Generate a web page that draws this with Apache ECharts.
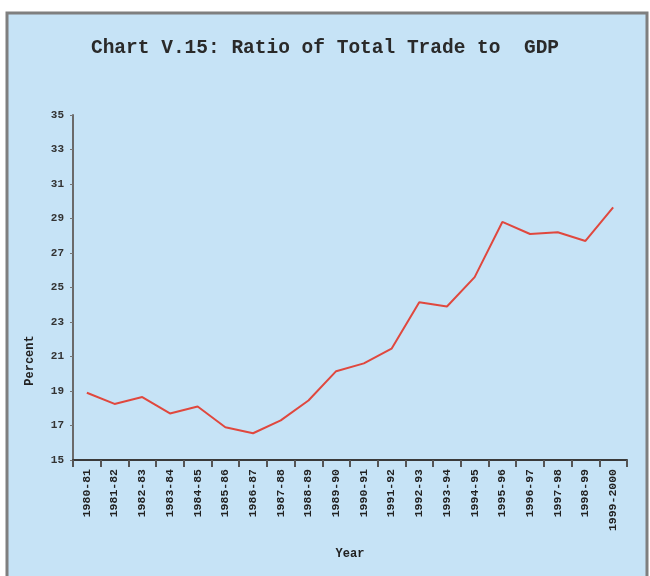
<!DOCTYPE html>
<html>
<head>
<meta charset="utf-8">
<script src="https://cdn.jsdelivr.net/npm/echarts@6/dist/echarts.min.js"></script>
<style>
html,body{margin:0;padding:0;background:#ffffff;}
#chart{width:650px;height:576px;}
</style>
</head>
<body>
<div id="chart"></div>
<script>
const years = ["1980-81","1981-82","1982-83","1983-84","1984-85","1985-86","1986-87","1987-88","1988-89","1989-90","1990-91","1991-92","1992-93","1993-94","1994-95","1995-96","1996-97","1997-98","1998-99","1999-2000"];
const tradeRatio = [18.9,18.25,18.65,17.7,18.1,16.9,16.55,17.3,18.45,20.15,20.6,21.45,24.15,23.9,25.6,28.8,28.1,28.2,27.7,29.65];
const titleText = "Chart V.15: Ratio of Total Trade to  GDP";
const yName = "Percent";
const xName = "Year";

const chart = echarts.init(document.getElementById('chart'));
chart.setOption({
  backgroundColor: '#ffffff',
  animation: false,
  graphic: [
    {type:'rect', shape:{x:7,y:13,width:640,height:570}, style:{fill:'#c6e3f6', stroke:'#7f7f7f', lineWidth:3}, z:-10}
  ],
  title: {
    text: titleText,
    left: 'center',
    top: 33,
    textStyle: {fontFamily:'Liberation Mono', fontSize:19.5, fontWeight:'bold', color:'#2a2a2a'}
  },
  grid: {left:73, right:23, top:115, bottom:116},
  xAxis: {
    type:'category',
    data: years,
    boundaryGap: true,
    name: xName,
    nameLocation:'middle',
    nameGap: 88,
    nameTextStyle:{fontFamily:'Liberation Mono', fontSize:12, fontWeight:'bold', color:'#222'},
    axisLine:{lineStyle:{color:'#3a3a3a', width:2}},
    axisTick:{show:true, length:7, lineStyle:{color:'#555', width:2}, alignWithLabel:false},
    axisLabel:{rotate:90, fontFamily:'Liberation Mono', fontSize:11.5, fontWeight:'bold', color:'#222', margin:9, interval:0}
  },
  yAxis: {
    type:'value',
    min:15, max:35, interval:2,
    name: yName,
    nameLocation:'middle',
    nameGap: 37,
    nameRotate: 90,
    nameTextStyle:{fontFamily:'Liberation Mono', fontSize:12, fontWeight:'bold', color:'#222', padding:[0,146,0,0]},
    axisLine:{show:true, lineStyle:{color:'#6a6a6a', width:2}},
    axisTick:{show:true, length:3, lineStyle:{color:'#777'}},
    splitLine:{show:false},
    axisLabel:{fontFamily:'Liberation Mono', fontSize:11, fontWeight:'bold', color:'#333', margin:9}
  },
  series: [{
    type:'line',
    data: tradeRatio,
    symbol:'none',
    lineStyle:{color:'#e0483e', width:2}
  }]
});
</script>
</body>
</html>
